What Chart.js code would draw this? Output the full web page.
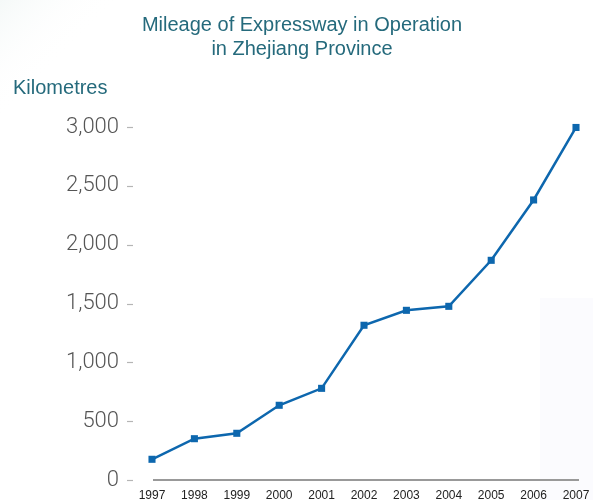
<!DOCTYPE html>
<html>
<head>
<meta charset="utf-8">
<script src="https://cdn.jsdelivr.net/npm/chart.js@4/dist/chart.umd.min.js"></script>
<style>
  html, body { margin: 0; padding: 0; background: #ffffff; }
  #wrap { width: 593px; height: 500px; position: relative; }
</style>
</head>
<body>
<div id="wrap"><canvas id="c" width="593" height="500"></canvas></div>
<script>
// Expressway mileage in operation, Zhejiang Province (km)
const years = ['1997', '1998', '1999', '2000', '2001', '2002', '2003', '2004', '2005', '2006', '2007'];
const mileage = [176, 351, 397, 635, 779, 1315, 1442, 1476, 1867, 2380, 2996];
const yTicks = [0, 500, 1000, 1500, 2000, 2500, 3000];

const titleLines = ['Mileage of Expressway in Operation', 'in Zhejiang Province'];
const unitLabel = 'Kilometres';

const TEAL = '#256a7c';
const LINE_BLUE = '#0d67ae';
const CLEAR = 'rgba(0,0,0,0)';

// Soft page background and the headings drawn above the plot
const decor = {
  id: 'decor',
  beforeDraw(chart) {
    const { ctx, width, height } = chart;
    ctx.save();
    ctx.fillStyle = '#ffffff';
    ctx.fillRect(0, 0, width, height);
    const g = ctx.createLinearGradient(0, 0, 60, 60);
    g.addColorStop(0, '#f5f9f8');
    g.addColorStop(1, 'rgba(255,255,255,0)');
    ctx.fillStyle = g;
    ctx.fillRect(0, 0, 120, 120);
    ctx.fillStyle = '#fbfbfe';
    ctx.fillRect(540, 298, width - 540, height - 298);
    ctx.restore();
  },
  afterDraw(chart) {
    const { ctx } = chart;
    const y = chart.scales.y;
    ctx.save();
    // headings
    ctx.fillStyle = TEAL;
    ctx.font = '20px "Liberation Sans", Arial, sans-serif';
    ctx.textAlign = 'center';
    ctx.textBaseline = 'alphabetic';
    ctx.fillText(titleLines[0], 302, 31);
    ctx.fillText(titleLines[1], 302, 55);
    ctx.textAlign = 'left';
    ctx.fillText(unitLabel, 13, 94);
    // short y tick marks, set off to the left of the plot
    ctx.strokeStyle = '#b5b5b5';
    ctx.lineWidth = 1.2;
    yTicks.forEach(v => {
      const py = Math.round(y.getPixelForValue(v)) + 0.5;
      ctx.beginPath();
      ctx.moveTo(127, py);
      ctx.lineTo(133, py);
      ctx.stroke();
    });
    ctx.restore();
  },
  beforeDatasetsDraw(chart) {
    const { ctx, chartArea } = chart;
    const y0 = chart.scales.y.getPixelForValue(0);
    ctx.save();
    ctx.strokeStyle = '#999999';
    ctx.lineWidth = 2;
    ctx.beginPath();
    ctx.moveTo(chartArea.left + 1, y0);
    ctx.lineTo(chartArea.right + 3, y0);
    ctx.stroke();
    ctx.restore();
  }
};

new Chart(document.getElementById('c'), {
  type: 'line',
  data: {
    labels: years,
    datasets: [{
      data: mileage,
      borderColor: LINE_BLUE,
      backgroundColor: LINE_BLUE,
      borderWidth: 2.5,
      pointStyle: 'rect',
      pointRadius: 5,
      pointBorderWidth: 0,
      pointBackgroundColor: LINE_BLUE,
      tension: 0,
      clip: false
    }]
  },
  options: {
    responsive: false,
    animation: false,
    devicePixelRatio: 1,
    layout: { padding: { top: 127, right: 17, bottom: 0, left: 0 } },
    plugins: {
      legend: { display: false },
      title: { display: false },
      tooltip: { enabled: false }
    },
    scales: {
      x: {
        type: 'category',
        offset: false,
        afterFit(s) { s.height = 20; },
        grid: { display: true, drawOnChartArea: false, drawTicks: true, tickLength: 8, tickColor: CLEAR, color: CLEAR },
        border: { display: false },
        ticks: {
          padding: 0,
          maxRotation: 0,
          autoSkip: false,
          color: '#222222',
          font: { family: '"Liberation Sans", Arial, sans-serif', size: 12 }
        }
      },
      y: {
        min: 0,
        max: 3000,
        afterFit(s) { s.width = 152; },
        afterBuildTicks(s) { s.ticks = yTicks.map(v => ({ value: v })); },
        grid: { display: true, drawOnChartArea: false, drawTicks: true, tickLength: 27, tickColor: CLEAR, color: CLEAR },
        border: { display: false },
        ticks: {
          padding: 6,
          color: '#555555',
          font: { family: 'Roboto, "Liberation Sans", sans-serif', size: 22, weight: '300' },
          callback: v => v.toLocaleString('en-US')
        }
      }
    }
  },
  plugins: [decor]
});
</script>
</body>
</html>
